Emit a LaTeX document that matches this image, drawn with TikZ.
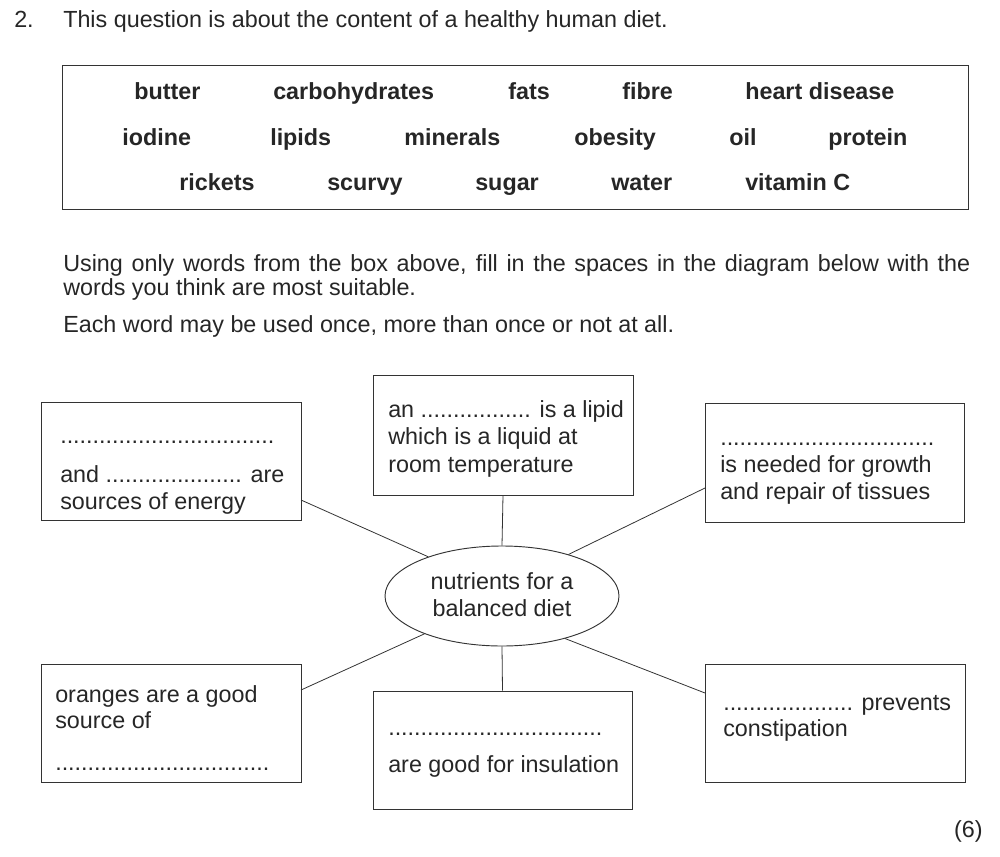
\documentclass[tikz,border=0pt]{standalone}
\usepackage{fontspec}
\setmainfont{Liberation Sans}
\usetikzlibrary{shapes.geometric}
\begin{document}
\begin{tikzpicture}[x=0.75pt,y=-0.75pt,
  txt/.style={anchor=base west,inner sep=0pt,font=\fontsize{17.5}{18}\selectfont,text=black!85},
  wd/.style={anchor=base west,inner sep=0pt,font=\fontsize{17.5}{18}\selectfont\bfseries,text=black!85},
  bx/.style={draw=black!80,line width=0.7pt},
  ln/.style={draw=black!80,line width=0.6pt}]
\useasboundingbox (0,0) rectangle (1000,857);
\node[txt] (q) at (14,27) {2.};
\node[txt] (qt) at (63,27) {This question is about the content of a healthy human diet.};
\node[bx,minimum width=906*0.75pt,minimum height=144*0.75pt,inner sep=0pt] (wb) at (515,137) {};
\node[wd] (w1) at (134,99) {butter};
\node[wd] (w2) at (273,99) {carbohydrates};
\node[wd] (w3) at (508,99) {fats};
\node[wd] (w4) at (622,99) {fibre};
\node[wd] (w5) at (745,99) {heart disease};
\node[wd] (w6) at (122,145) {iodine};
\node[wd] (w7) at (270,145) {lipids};
\node[wd] (w8) at (404,145) {minerals};
\node[wd] (w9) at (574,145) {obesity};
\node[wd] (w10) at (729,145) {oil};
\node[wd] (w11) at (828,145) {protein};
\node[wd] (w12) at (179,190) {rickets};
\node[wd] (w13) at (327,190) {scurvy};
\node[wd] (w14) at (475,190) {sugar};
\node[wd] (w15) at (611,190) {water};
\node[wd] (w16) at (745,190) {vitamin C};
\node[txt,anchor=north west,text width=907*0.75pt,align=justify,font=\fontsize{17.5}{18}\selectfont] (p1) at (63,254) {Using only words from the box above, fill in the spaces in the diagram below with the words you think are most suitable.};
\node[txt] (p3) at (63,332) {Each word may be used once, more than once or not at all.};
% boxes
\node[bx,minimum width=260*0.75pt,minimum height=118*0.75pt,inner sep=0pt] (tl) at (171,461) {};
\node[bx,minimum width=260*0.75pt,minimum height=120*0.75pt,inner sep=0pt] (tc) at (503,435) {};
\node[bx,minimum width=259*0.75pt,minimum height=119*0.75pt,inner sep=0pt] (tr) at (834.5,462.5) {};
\node[bx,minimum width=260*0.75pt,minimum height=118*0.75pt,inner sep=0pt] (bl) at (171,723) {};
\node[bx,minimum width=259*0.75pt,minimum height=118*0.75pt,inner sep=0pt] (bc) at (502.5,750) {};
\node[bx,minimum width=260*0.75pt,minimum height=118*0.75pt,inner sep=0pt] (br) at (835,723) {};
\node[bx,ellipse,minimum width=234*0.75pt,minimum height=100*0.75pt,inner sep=0pt] (el) at (502,596) {};
\node[txt,anchor=base] (e1) at (502,589) {nutrients for a};
\node[txt,anchor=base] (e2) at (502,616) {balanced diet};
% box texts
\node[txt] (t1) at (60,443) {.................................};
\node[txt] (t2) at (60,482) {and ..................... are};
\node[txt] (t3) at (60,509) {sources of energy};
\node[txt] (c1) at (388,417) {an ................. is a lipid};
\node[txt] (c2) at (388,444) {which is a liquid at};
\node[txt] (c3) at (388,472) {room temperature};
\node[txt] (r1) at (720,445) {.................................};
\node[txt] (r2) at (720,472) {is needed for growth};
\node[txt] (r3) at (720,499) {and repair of tissues};
\node[txt] (l1) at (55,702) {oranges are a good};
\node[txt] (l2) at (55,728) {source of};
\node[txt] (l3) at (55,770) {.................................};
\node[txt] (m1) at (388,735) {.................................};
\node[txt] (m2) at (388,772) {are good for insulation};
\node[txt] (s1) at (723,710) {.................... prevents};
\node[txt] (s2) at (723,736) {constipation};
\node[txt,anchor=base east] (mk) at (983,837) {(6)};
% connectors
\coordinate (a1) at (301,500);
\coordinate (a3) at (705,488);
\coordinate (a4) at (301,690);
\coordinate (a6) at (705,693);
\draw[ln] (a1) -- (el.152);
\draw[ln] (tc.south) -- (el.north);
\draw[ln] (a3) -- (el.32);
\draw[ln] (a4) -- (el.206);
\draw[ln] (bc.north) -- (el.south);
\draw[ln] (a6) -- (el.326);
\end{tikzpicture}
\end{document}
